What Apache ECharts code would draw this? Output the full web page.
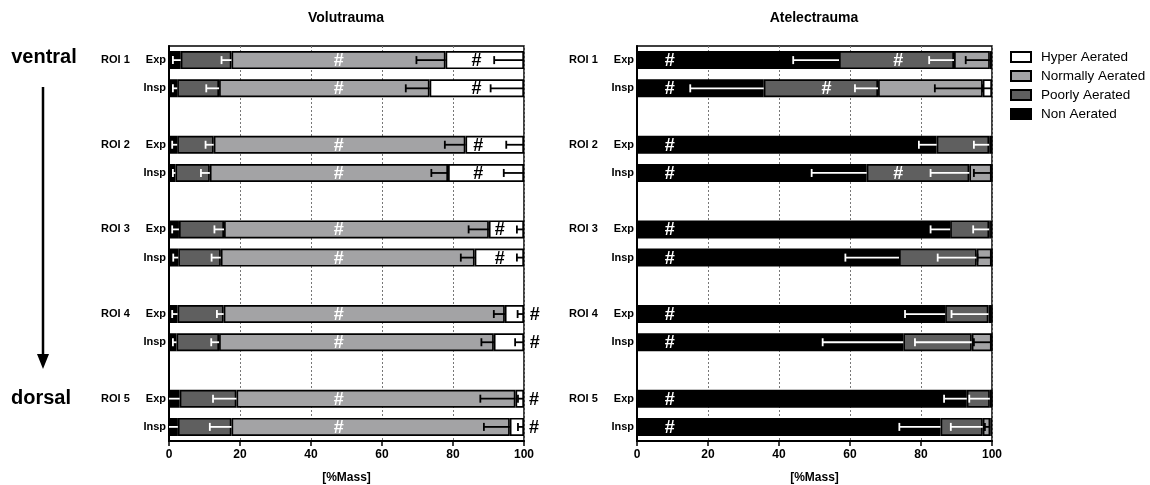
<!DOCTYPE html>
<html>
<head>
<meta charset="utf-8">
<script src="https://cdn.jsdelivr.net/npm/echarts@6/dist/echarts.min.js"></script>
<style>
  html, body { margin: 0; padding: 0; background: #fff; }
  #chart { width: 1150px; height: 485px; }
</style>
</head>
<body>
<div id="chart"></div>
<script>
// Regions of interest (ventral -> dorsal) and breathing phases
const roiNames = ['ROI 1', 'ROI 2', 'ROI 3', 'ROI 4', 'ROI 5'];
const phases = ['Exp', 'Insp'];
const xTicks = [0, 20, 40, 60, 80, 100];
const segNames = ['Non Aerated', 'Poorly Aerated', 'Normally Aerated', 'Hyper Aerated'];
const legendOrder = ['Hyper Aerated', 'Normally Aerated', 'Poorly Aerated', 'Non Aerated'];

// Volutrauma — mean %mass per row: ROI1 Exp, ROI1 Insp, ROI2 Exp, ... ROI5 Insp
const voluNon    = [3.3, 2.3, 2.3, 1.8, 2.8, 2.6, 2.4, 2.1, 3.0, 2.5];
const voluPoor   = [14.3, 11.8, 10.3, 9.7, 12.7, 12.0, 13.0, 12.0, 16.0, 15.1];
const voluNormal = [60.3, 59.3, 70.9, 67.1, 74.6, 71.5, 79.2, 77.4, 78.6, 78.4];
const voluHyper  = [22.1, 26.6, 16.5, 21.4, 9.9, 13.9, 5.4, 8.5, 2.4, 4.0];
// Volutrauma — standard deviations
const voluNonSd    = [2.2, 1.2, 1.4, 0.7, 1.9, 1.4, 1.5, 1.0, 3.0, 2.5];
const voluPoorSd   = [2.8, 3.6, 2.3, 2.5, 2.7, 2.6, 1.9, 2.2, 6.6, 6.1];
const voluNormalSd = [8.2, 6.7, 5.8, 4.7, 5.7, 3.9, 3.1, 3.5, 9.9, 7.3];
const voluHyperSd  = [8.4, 9.4, 5.0, 5.7, 2.0, 2.0, 1.8, 2.5, 1.7, 1.7];

// Atelectrauma — mean %mass per row
const ateNon    = [56.9, 35.7, 84.4, 64.7, 88.2, 73.8, 86.8, 75.0, 92.9, 85.5];
const atePoor   = [32.4, 32.2, 14.8, 28.9, 11.0, 21.9, 12.2, 19.3, 6.5, 11.9];
const ateNormal = [10.1, 29.5, 0.6, 6.3, 0.5, 4.2, 0.9, 5.6, 0.5, 2.1];
const ateHyper  = [0.6, 2.6, 0.2, 0.1, 0.3, 0.1, 0.1, 0.1, 0.1, 0.5];
// Atelectrauma — standard deviations
const ateNonSd    = [12.9, 20.7, 5.0, 15.5, 5.5, 15.1, 11.3, 22.7, 6.4, 11.6];
const atePoorSd   = [7.0, 6.5, 4.3, 10.9, 4.5, 11.0, 10.4, 16.0, 5.8, 9.0];
const ateNormalSd = [6.8, 13.5, 0, 5.0, 0, 4.0, 0, 5.0, 0, 1.5];
const ateHyperSd  = [0, 2.6, 0, 0, 0, 0, 0, 0, 0, 0];

// Significance markers: [row, %mass position, 0 = white / 1 = black]
const voluSig = [
  [0, 47.8, 0], [1, 47.8, 0], [2, 47.8, 0], [3, 47.8, 0], [4, 47.8, 0],
  [5, 47.8, 0], [6, 47.8, 0], [7, 47.8, 0], [8, 47.8, 0], [9, 47.8, 0],
  [0, 86.6, 1], [1, 86.6, 1], [2, 87.1, 1], [3, 87.1, 1], [4, 93.2, 1],
  [5, 93.2, 1], [6, 103, 1], [7, 103, 1], [8, 102.8, 1], [9, 102.8, 1]
];
const ateSig = [
  [0, 9.2, 0], [1, 9.2, 0], [2, 9.2, 0], [3, 9.2, 0], [4, 9.2, 0],
  [5, 9.2, 0], [6, 9.2, 0], [7, 9.2, 0], [8, 9.2, 0], [9, 9.2, 0],
  [0, 73.6, 0], [1, 53.4, 0], [3, 73.6, 0]
];

const FONT = '"Liberation Sans", Arial, Helvetica, sans-serif';
const segColors = ['#000000', '#5f5f5f', '#a3a3a5', '#ffffff'];

// Category slots: two rows per ROI with an empty slot between ROIs
const categories = [];
const slotOf = [];
roiNames.forEach((roi, i) => {
  phases.forEach(ph => { slotOf.push(categories.length); categories.push(roi + '|' + ph); });
  if (i < roiNames.length - 1) categories.push('gap' + i);
});
function toSlots(arr) {
  const out = categories.map(() => '-');
  arr.forEach((v, i) => { out[slotOf[i]] = v; });
  return out;
}

// Error bars run from each segment's right end back by one SD
function errorData(segs, sds) {
  const items = [];
  for (let r = 0; r < segs[0].length; r++) {
    let cum = 0;
    segs.forEach((seg, k) => {
      cum += seg[r];
      const sd = sds[k][r];
      if (sd > 0) {
        const lo = cum - sd;
        items.push([slotOf[r], cum, Math.max(0, lo), k < 2 ? 0 : 1, lo > 0 ? 1 : 0]);
      }
    });
  }
  return items;
}
function renderErr(params, api) {
  const y = api.value(0);
  const p1 = api.coord([api.value(1), y]);
  const p2 = api.coord([api.value(2), y]);
  const col = api.value(3) ? '#000' : '#fff';
  const cap = 4;
  const children = [
    { type: 'line', shape: { x1: p1[0], y1: p1[1], x2: p2[0], y2: p2[1] }, style: { stroke: col, lineWidth: 1.8 } }
  ];
  if (api.value(4)) {
    children.push({ type: 'line', shape: { x1: p2[0], y1: p2[1] - cap, x2: p2[0], y2: p2[1] + cap }, style: { stroke: col, lineWidth: 1.8 } });
  }
  return { type: 'group', children };
}
function renderHash(params, api) {
  const p = api.coord([api.value(1), api.value(0)]);
  return {
    type: 'text', x: p[0], y: p[1] + 1,
    style: {
      text: '#', fill: api.value(2) ? '#000' : '#fff',
      font: 'bold 18px ' + FONT, align: 'center', verticalAlign: 'middle'
    }
  };
}

function panelSeries(idx, segs, sds, sig) {
  const series = segs.map((vals, k) => ({
    type: 'bar', name: segNames[k], stack: 'panel' + idx,
    xAxisIndex: idx, yAxisIndex: idx,
    barWidth: 18, data: toSlots(vals),
    itemStyle: { color: segColors[k], borderColor: '#000', borderWidth: 1.7 },
    emphasis: { disabled: true }, z: 2
  }));
  series.push({
    type: 'custom', name: 'sd' + idx, xAxisIndex: idx, yAxisIndex: idx,
    renderItem: renderErr, data: errorData(segs, sds),
    encode: { x: [1, 2], y: 0 }, z: 5, silent: true
  });
  series.push({
    type: 'custom', name: 'sig' + idx, xAxisIndex: idx, yAxisIndex: idx, clip: false,
    renderItem: renderHash, data: sig.map(s => [slotOf[s[0]], s[1], s[2]]),
    encode: { x: 1, y: 0 }, z: 6, silent: true
  });
  return series;
}

function xAxis(idx) {
  return {
    type: 'value', gridIndex: idx, min: xTicks[0], max: xTicks[xTicks.length - 1],
    interval: xTicks[1] - xTicks[0],
    axisLine: { show: true, lineStyle: { color: '#000', width: 2 } },
    axisTick: { show: true, length: 5, lineStyle: { color: '#000', width: 1.5 } },
    axisLabel: { color: '#000', fontFamily: FONT, fontWeight: 'bold', fontSize: 12, margin: 8 },
    splitLine: { show: true, lineStyle: { color: '#777', width: 1, type: [2, 2] } },
    name: '[%Mass]', nameLocation: 'middle', nameGap: 31,
    nameTextStyle: { color: '#000', fontFamily: FONT, fontWeight: 'bold', fontSize: 12 }
  };
}
function yAxis(idx) {
  return {
    type: 'category', gridIndex: idx, data: categories, inverse: true,
    axisLine: { show: true, lineStyle: { color: '#000', width: 2 } },
    axisTick: { show: false },
    axisLabel: {
      margin: 3, interval: 0,
      formatter: v => {
        if (v.startsWith('gap')) return '';
        const [roi, ph] = v.split('|');
        return ph === phases[0] ? '{roi|' + roi + '}{ph|' + ph + '}' : '{ph|' + ph + '}';
      },
      rich: {
        roi: { fontFamily: FONT, fontWeight: 'bold', fontSize: 11, color: '#000', padding: [0, 16, 0, 0] },
        ph: { fontFamily: FONT, fontWeight: 'bold', fontSize: 11, color: '#000' }
      }
    },
    splitLine: { show: false }
  };
}

const chart = echarts.init(document.getElementById('chart'), null, { renderer: 'canvas' });
chart.setOption({
  animation: false,
  backgroundColor: '#fff',
  grid: [
    { left: 169, right: 626, top: 46, bottom: 44, show: true, borderColor: '#000', borderWidth: 1.5, outerBoundsMode: 'none' },
    { left: 637, right: 158, top: 46, bottom: 44, show: true, borderColor: '#000', borderWidth: 1.5, outerBoundsMode: 'none' }
  ],
  xAxis: [xAxis(0), xAxis(1)],
  yAxis: [yAxis(0), yAxis(1)],
  legend: {
    data: legendOrder, orient: 'vertical', left: 1010, top: 50, padding: 0,
    itemWidth: 20, itemHeight: 10, itemGap: 5, icon: 'rect',
    textStyle: { color: '#000', fontFamily: FONT, fontSize: 13.5, padding: [0, 0, 0, 5] },
    selectedMode: false
  },
  graphic: [
    { type: 'text', x: 346, y: 18, style: { text: 'Volutrauma', font: 'bold 14px ' + FONT, fill: '#000', align: 'center', verticalAlign: 'middle' } },
    { type: 'text', x: 814, y: 18, style: { text: 'Atelectrauma', font: 'bold 14px ' + FONT, fill: '#000', align: 'center', verticalAlign: 'middle' } },
    { type: 'text', x: 44, y: 57, style: { text: 'ventral', font: 'bold 20px ' + FONT, fill: '#000', align: 'center', verticalAlign: 'middle' } },
    { type: 'text', x: 41, y: 398, style: { text: 'dorsal', font: 'bold 20px ' + FONT, fill: '#000', align: 'center', verticalAlign: 'middle' } },
    { type: 'line', shape: { x1: 43, y1: 87, x2: 43, y2: 356 }, style: { stroke: '#000', lineWidth: 2.5 } },
    { type: 'polygon', shape: { points: [[37, 354], [49, 354], [43, 369]] }, style: { fill: '#000' } }
  ],
  series: [
    ...panelSeries(0, [voluNon, voluPoor, voluNormal, voluHyper], [voluNonSd, voluPoorSd, voluNormalSd, voluHyperSd], voluSig),
    ...panelSeries(1, [ateNon, atePoor, ateNormal, ateHyper], [ateNonSd, atePoorSd, ateNormalSd, ateHyperSd], ateSig)
  ]
});
</script>
</body>
</html>
